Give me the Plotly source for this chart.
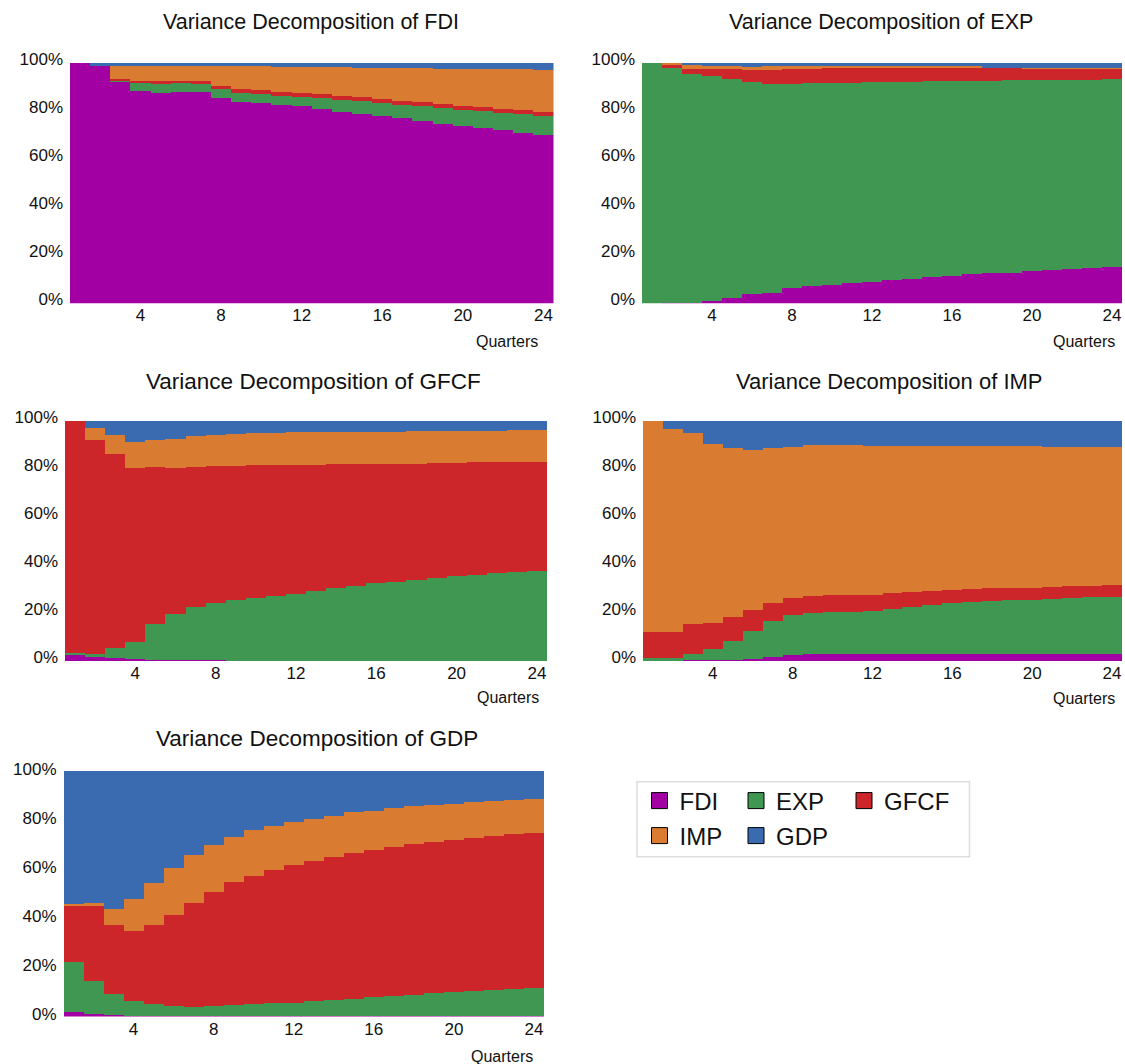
import plotly.graph_objects as go

W, H = 1125, 1064
FONT = "Liberation Sans, Arial, sans-serif"

quarters = list(range(1, 25))
x_ticks = [4, 8, 12, 16, 20, 24]
y_ticks = [0, 20, 40, 60, 80, 100]
y_tick_labels = ["0%", "20%", "40%", "60%", "80%", "100%"]
series_names = ["FDI", "EXP", "GFCF", "IMP", "GDP"]
series_colors = ["#A300A3", "#3F9752", "#CC252A", "#D97B30", "#3A6AB0"]

# ---- Variance decomposition of FDI (shares of FDI, EXP, GFCF, IMP, GDP shocks, %)
FDI_FDI = [100, 98.8, 92.5, 88.2, 87.7, 87.9, 87.8, 85.6, 83.8, 83.2, 82.4, 82.0,
           80.7, 79.5, 78.7, 77.8, 77.0, 75.8, 74.7, 73.7, 72.9, 72.0, 70.8, 69.9]
FDI_EXP = [0, 0, 0.3, 3.3, 3.6, 3.6, 3.5, 3.5, 3.7, 3.9, 4.0, 4.0,
           4.6, 5.0, 5.4, 5.4, 5.7, 6.2, 6.5, 6.8, 7.1, 7.3, 7.9, 8.0]
FDI_GFCF = [0, 0, 0.7, 1.2, 1.1, 1.1, 1.1, 1.5, 1.5, 1.5, 1.7, 1.7,
            1.7, 1.7, 1.7, 1.7, 1.7, 1.7, 1.7, 1.7, 1.8, 1.7, 1.7, 1.8]
FDI_IMP = [0, 0, 5.2, 5.9, 6.2, 6.0, 6.2, 8.0, 9.6, 10.0, 10.1, 10.5,
           11.2, 12.0, 12.3, 13.2, 13.4, 14.1, 14.7, 15.4, 15.7, 16.4, 17.0, 17.5]
FDI_GDP = [0, 1.2, 1.3, 1.4, 1.4, 1.4, 1.4, 1.4, 1.4, 1.4, 1.8, 1.8,
           1.8, 1.8, 1.9, 1.9, 2.2, 2.2, 2.4, 2.4, 2.5, 2.6, 2.6, 2.8]

# ---- Variance decomposition of EXP
EXP_FDI = [0, 0.1, 0.3, 1.2, 2.4, 3.9, 4.6, 6.5, 7.2, 7.9, 8.4, 8.9,
           9.7, 10.4, 10.9, 11.6, 12.2, 12.6, 12.9, 13.4, 14.0, 14.3, 14.7, 15.1]
EXP_EXP = [100, 98.0, 95.3, 93.2, 91.0, 88.1, 86.6, 84.9, 84.4, 83.8, 83.4, 83.1,
           82.4, 81.8, 81.5, 80.8, 80.3, 80.1, 79.9, 79.4, 78.9, 78.6, 78.4, 78.1]
EXP_GFCF = [0, 1.0, 1.9, 3.3, 4.0, 5.0, 6.0, 6.0, 6.1, 6.5, 6.4, 6.2,
            6.1, 6.0, 5.8, 5.8, 5.8, 5.3, 5.2, 5.1, 5.0, 5.0, 4.8, 4.7]
EXP_IMP = [0, 0.9, 1.8, 1.2, 1.2, 1.5, 1.4, 1.5, 1.1, 0.4, 0.4, 0.4,
           0.4, 0.4, 0.4, 0.4, 0.3, 0.1, 0.1, 0.2, 0.2, 0.2, 0.2, 0.2]
EXP_GDP = [0, 0.0, 0.7, 1.1, 1.4, 1.5, 1.4, 1.1, 1.2, 1.4, 1.4, 1.4,
           1.4, 1.4, 1.4, 1.4, 1.4, 1.9, 1.9, 1.9, 1.9, 1.9, 1.9, 1.9]

# ---- Variance decomposition of GFCF
GFCF_FDI = [2.5, 1.7, 1.2, 0.8, 0.6, 0.5, 0.4, 0.4, 0.3, 0.2, 0.1, 0.1,
            0.1, 0.1, 0.1, 0.1, 0.1, 0.1, 0.1, 0.1, 0.1, 0.1, 0.1, 0.1]
GFCF_EXP = [1.1, 1.2, 4.2, 7.4, 14.8, 19.0, 22.0, 23.8, 25.1, 26.0, 27.0, 28.1,
            29.2, 30.3, 31.4, 32.4, 33.1, 33.9, 34.5, 35.2, 35.8, 36.5, 37.0, 37.4]
GFCF_GFCF = [96.4, 89.3, 80.9, 72.4, 65.6, 61.0, 58.4, 57.1, 56.0, 55.4, 54.5, 53.6,
             52.5, 51.5, 50.5, 49.7, 49.1, 48.2, 47.9, 47.3, 46.9, 46.4, 46.0, 45.6]
GFCF_IMP = [0, 5.0, 7.9, 10.5, 11.2, 12.1, 12.8, 13.0, 13.3, 13.3, 13.5, 13.5,
            13.5, 13.5, 13.6, 13.4, 13.3, 13.5, 13.3, 13.2, 13.2, 13.0, 13.0, 13.0]
GFCF_GDP = [0, 2.8, 5.8, 8.9, 7.8, 7.4, 6.4, 5.7, 5.3, 5.1, 4.9, 4.7,
            4.7, 4.6, 4.4, 4.4, 4.4, 4.3, 4.2, 4.2, 4.0, 4.0, 3.9, 3.9]

# ---- Variance decomposition of IMP
IMP_FDI = [0.4, 0.4, 0.6, 0.5, 0.4, 0.8, 1.7, 2.5, 2.9, 2.9, 2.9, 2.9,
           2.9, 2.9, 2.9, 3.1, 2.9, 3.0, 3.0, 3.0, 2.9, 2.9, 2.9, 2.9]
IMP_EXP = [0.8, 0.8, 2.6, 4.6, 7.9, 11.7, 15.0, 16.6, 17.1, 17.6, 17.6, 17.9,
           18.9, 19.9, 20.7, 21.2, 21.8, 22.1, 22.4, 22.6, 22.9, 23.4, 23.7, 24.0]
IMP_GFCF = [11.2, 11.2, 12.2, 11.0, 10.0, 8.7, 7.6, 7.2, 7.2, 6.9, 6.9, 6.7,
            6.5, 6.1, 5.8, 5.5, 5.5, 5.4, 5.3, 5.1, 5.3, 5.0, 4.9, 4.7]
IMP_IMP = [87.6, 84.1, 79.5, 74.5, 70.3, 66.9, 64.3, 63.0, 62.7, 62.5, 62.5, 62.0,
           61.2, 60.6, 60.1, 59.7, 59.3, 59.0, 58.8, 58.8, 58.2, 58.0, 57.8, 57.6]
IMP_GDP = [0, 3.5, 5.1, 9.4, 11.4, 11.9, 11.4, 10.7, 10.1, 10.1, 10.1, 10.5,
           10.5, 10.5, 10.5, 10.5, 10.5, 10.5, 10.5, 10.5, 10.7, 10.7, 10.7, 10.8]

# ---- Variance decomposition of GDP
GDP_FDI = [1.8, 1.2, 0.5, 0.4, 0.3, 0.3, 0.3, 0.3, 0.3, 0.2, 0.1, 0.1,
           0.1, 0.1, 0.1, 0.1, 0.1, 0.1, 0.1, 0.1, 0.1, 0.1, 0.1, 0.1]
GDP_EXP = [20.4, 13.3, 8.8, 6.1, 4.7, 3.8, 3.7, 3.9, 4.5, 5.0, 5.3, 5.6,
           6.1, 6.5, 7.2, 7.7, 8.3, 8.8, 9.4, 9.8, 10.3, 10.9, 11.3, 11.7]
GDP_GFCF = [22.9, 30.5, 28.1, 28.2, 32.4, 37.4, 42.3, 46.7, 49.8, 52.1, 54.3, 56.0,
            57.3, 58.5, 59.2, 60.1, 60.7, 61.2, 61.7, 62.1, 62.3, 62.6, 62.8, 62.8]
GDP_IMP = [0.9, 1.1, 6.2, 13.0, 17.0, 19.1, 19.3, 19.0, 18.6, 18.6, 18.0, 17.6,
           17.1, 16.7, 16.6, 16.0, 15.7, 15.5, 14.9, 14.7, 14.6, 14.2, 14.1, 14.1]
GDP_GDP = [54.0, 53.9, 56.4, 52.3, 45.6, 39.4, 34.4, 30.1, 26.8, 24.1, 22.3, 20.7,
           19.4, 18.2, 16.9, 16.1, 15.2, 14.4, 13.9, 13.3, 12.7, 12.2, 11.7, 11.3]

panel_titles = ["Variance Decomposition of FDI", "Variance Decomposition of EXP",
                "Variance Decomposition of GFCF", "Variance Decomposition of IMP",
                "Variance Decomposition of GDP"]
panel_data = [
    [FDI_FDI, FDI_EXP, FDI_GFCF, FDI_IMP, FDI_GDP],
    [EXP_FDI, EXP_EXP, EXP_GFCF, EXP_IMP, EXP_GDP],
    [GFCF_FDI, GFCF_EXP, GFCF_GFCF, GFCF_IMP, GFCF_GDP],
    [IMP_FDI, IMP_EXP, IMP_GFCF, IMP_IMP, IMP_GDP],
    [GDP_FDI, GDP_EXP, GDP_GFCF, GDP_IMP, GDP_GDP],
]

# layout in pixels: plot-area left, right, top, bottom; title centre and size;
# "Quarters" right edge / centre y; ys = vertical shift of the y tick labels
panel_boxes = [
    dict(l=70, r=553.5, t=62.7, b=303.3, tx=310.5, ty=21.5, ts=21.5, qx=540, qy=341, ys=-4),
    dict(l=642, r=1122, t=62.7, b=303.3, tx=881, ty=21.5, ts=21.5, qx=1117, qy=341, ys=-4),
    dict(l=65, r=547, t=420.7, b=661, tx=313, ty=381.5, ts=22.5, qx=541, qy=697, ys=-4),
    dict(l=643, r=1122, t=420.7, b=661, tx=889, ty=381.5, ts=22, qx=1117, qy=698, ys=-4),
    dict(l=63.5, r=544, t=771, b=1016.5, tx=317, ty=738.5, ts=22.5, qx=535, qy=1056, ys=-2),
]


def fx(p):
    return p / W


def fy(p):
    return 1 - p / H


fig = go.Figure()
annotations = []
layout_axes = {}

for i, (title, data, box) in enumerate(zip(panel_titles, panel_data, panel_boxes)):
    n = i + 1
    xa = "x" if n == 1 else f"x{n}"
    ya = "y" if n == 1 else f"y{n}"
    for name, color, vals in zip(series_names, series_colors, data):
        fig.add_trace(go.Bar(
            x=quarters, y=vals, width=1, name=name,
            marker=dict(color=color, line=dict(width=0)),
            xaxis=xa, yaxis=ya, showlegend=False, legendgroup=name,
        ))
    xkey = "xaxis" if n == 1 else f"xaxis{n}"
    ykey = "yaxis" if n == 1 else f"yaxis{n}"
    layout_axes[xkey] = dict(
        domain=[fx(box["l"]), fx(box["r"])], anchor=ya, range=[0.5, 24.5],
        tickmode="array", tickvals=x_ticks, showgrid=False, zeroline=False,
        showline=False, ticks="", ticklabelstandoff=0, automargin=False,
        tickfont=dict(family=FONT, size=17, color="#111111"), fixedrange=True,
    )
    layout_axes[ykey] = dict(
        domain=[fy(box["b"]), fy(box["t"])], anchor=xa, range=[0, 100],
        tickmode="array", tickvals=y_ticks, ticktext=y_tick_labels, showgrid=False,
        zeroline=False, showline=False, ticks="", ticklabelstandoff=6,
        ticklabelshift=box["ys"], automargin=False,
        tickfont=dict(family=FONT, size=17, color="#111111"), fixedrange=True,
    )
    annotations.append(dict(
        text=title, x=fx(box["tx"]), y=fy(box["ty"]), xref="paper", yref="paper",
        xanchor="center", yanchor="middle", showarrow=False,
        font=dict(family=FONT, size=box["ts"], color="#111111"),
    ))
    annotations.append(dict(
        text="Quarters", x=fx(box["qx"]), y=fy(box["qy"]), xref="paper", yref="paper",
        xanchor="right", yanchor="middle", showarrow=False,
        font=dict(family=FONT, size=16, color="#111111"),
    ))

# legend entries (two rows, as in the original)
legend_rows = [["FDI", "EXP", "GFCF"], ["IMP", "GDP"]]
legend_widths = {"FDI": 51.5, "EXP": 63, "GFCF": 70, "IMP": 51.5, "GDP": 63}
for row_idx, row in enumerate(legend_rows):
    for name in row:
        c = series_colors[series_names.index(name)]
        fig.add_trace(go.Scatter(
            x=[None], y=[None], mode="markers", name=name,
            marker=dict(symbol="square", size=16, color=c, line=dict(color="black", width=1)),
            legend="legend" if row_idx == 0 else "legend2",
            legendwidth=legend_widths[name], legendgroup=name, hoverinfo="skip",
        ))

legend_common = dict(
    orientation="h", xanchor="left", yanchor="top", bgcolor="rgba(0,0,0,0)",
    borderwidth=0, font=dict(family=FONT, size=24, color="#111111"),
    itemclick=False, itemdoubleclick=False,
)

fig.update_layout(
    width=W, height=H, margin=dict(l=0, r=0, t=0, b=0, autoexpand=False),
    paper_bgcolor="white", plot_bgcolor="white",
    barmode="stack", bargap=0, bargroupgap=0,
    annotations=annotations,
    legend=dict(x=fx(639.5), y=fy(778.5), **legend_common),
    legend2=dict(x=fx(639.5), y=fy(813.5), **legend_common),
    shapes=[dict(type="rect", xref="paper", yref="paper",
                 x0=fx(637), x1=fx(969.5), y0=fy(856.7), y1=fy(781.7),
                 line=dict(color="#DDDDDD", width=1.5), fillcolor="rgba(0,0,0,0)")],
    font=dict(family=FONT),
    **layout_axes,
)

fig.write_html(
    "out.html",
    config={"displayModeBar": False},
    post_script="document.body.style.margin='0';document.body.style.overflow='hidden';",
)
